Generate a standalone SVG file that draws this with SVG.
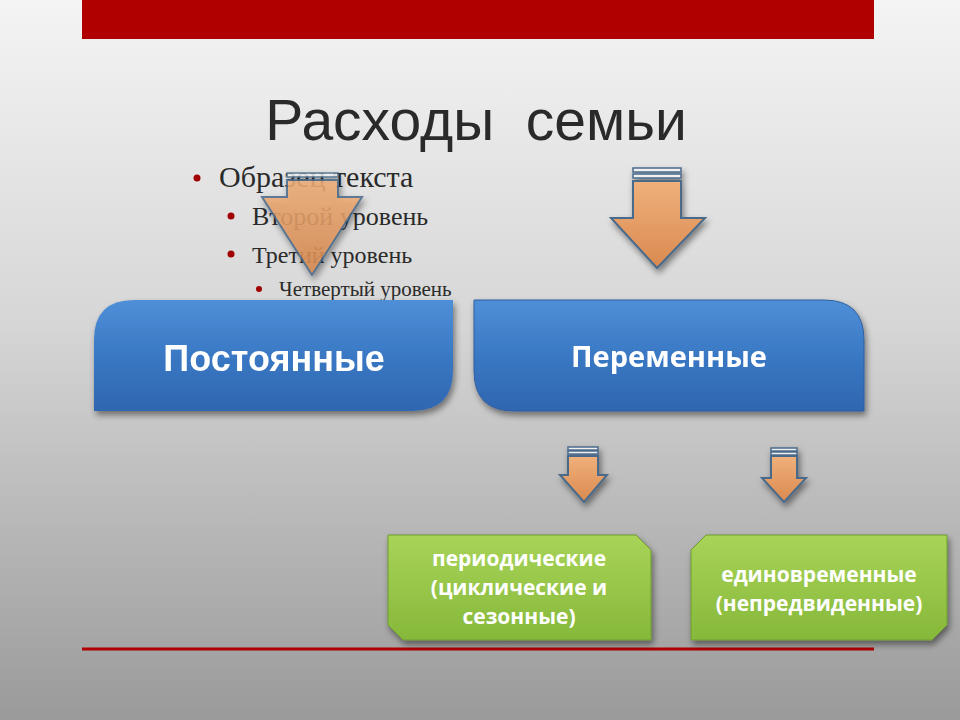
<svg xmlns="http://www.w3.org/2000/svg" width="960" height="720" viewBox="0 0 960 720">
<defs>
<linearGradient id="bg" x1="0" y1="0" x2="0" y2="1"><stop offset="0" stop-color="#f4f4f4"/><stop offset="0.45" stop-color="#d6d6d6"/><stop offset="1" stop-color="#9a9a9a"/></linearGradient>
<linearGradient id="blue" x1="0" y1="0" x2="0" y2="1"><stop offset="0" stop-color="#4f8fd8"/><stop offset="0.5" stop-color="#3a78c4"/><stop offset="1" stop-color="#2f66b0"/></linearGradient>
<linearGradient id="green" x1="0" y1="0" x2="0" y2="1"><stop offset="0" stop-color="#a8d458"/><stop offset="1" stop-color="#86b83a"/></linearGradient>
<linearGradient id="org" x1="0" y1="0" x2="0" y2="1"><stop offset="0" stop-color="#f0b07a"/><stop offset="1" stop-color="#d98a50"/></linearGradient>
<filter id="sh" x="-20%" y="-20%" width="140%" height="150%"><feDropShadow dx="2" dy="4" stdDeviation="3" flood-opacity="0.45"/></filter>
</defs>
<style>
.arr{fill:url(#org);stroke:#4a6a8a;stroke-width:2}
.str{fill:#f0f0f0;stroke:#4a6a8a;stroke-width:1.5}
.bt{font-family:"Liberation Sans",Arial,sans-serif;font-weight:bold;fill:#fff}
.gt{font-family:"Open Sans","DejaVu Sans",sans-serif;font-weight:bold;fill:#fff;font-size:21px;text-anchor:middle}
.bl{font-family:"Liberation Serif","Times New Roman",serif;fill:#2a2a2a}
</style>
<rect width="960" height="720" fill="url(#bg)"/>
<rect x="82" y="0" width="792" height="39" fill="#b00000"/>
<line x1="82" y1="649" x2="874" y2="649" stroke="#b00000" stroke-width="3"/>
<text x="476" y="140" xml:space="preserve" font-family="Liberation Sans,Arial,sans-serif" font-size="57" fill="#2a2a2a" text-anchor="middle">Расходы  семьи</text>
<g id="bullets" class="bl">
<circle cx="197" cy="178" r="3.5" fill="#a00000"/><text x="219" y="187" font-size="30">Образец текста</text>
<circle cx="231" cy="216" r="3.5" fill="#a00000"/><text x="252" y="225" font-size="26">Второй уровень</text>
<circle cx="231" cy="254" r="3.5" fill="#a00000"/><text x="252" y="263" font-size="24">Третий уровень</text>
<circle cx="259" cy="289" r="3" fill="#a00000"/><text x="279" y="296" font-size="21">Четвертый уровень</text>
</g>
<g id="connectors" filter="url(#sh)">
<g opacity="0.85"><rect class="str" x="287" y="173" width="51" height="4"/><path class="arr" d="M287 180 H338 V197 H362 L312 275 L262 197 H287 Z"/></g>
<g><rect class="str" x="633" y="168" width="48" height="4"/><rect class="str" x="633" y="174" width="48" height="4"/><path class="arr" d="M633 181 H681 V218 H705 L657 268 L611 218 H633 Z"/></g>
<g><rect class="str" x="568" y="447" width="30" height="3"/><rect class="str" x="568" y="451" width="30" height="3"/><path class="arr" d="M568 456 H598 V475 H607 L584 502 L560 475 H568 Z"/></g>
<g><rect class="str" x="771" y="448" width="26" height="3"/><rect class="str" x="771" y="452" width="26" height="3"/><path class="arr" d="M771 456 H797 V478 H806 L784 502 L762 478 H771 Z"/></g>
</g>
<g id="n1"><path d="M134 300 H453 V370 Q453 411 412 411 H94 V340 Q94 300 134 300 Z" fill="url(#blue)" filter="url(#sh)"/><text class="bt" x="274" y="371" font-size="36" text-anchor="middle">Постоянные</text></g>
<g id="n2"><path d="M474 300 H824 Q864 300 864 340 V411 H514 Q474 411 474 371 Z" fill="url(#blue)" stroke="#2f5f9f" filter="url(#sh)"/><text class="gt" x="669" y="367" style="font-size:29px">Переменные</text></g>
<g id="n3"><path d="M388 535 H636 L651 550 V640 H403 L388 625 Z" fill="url(#green)" stroke="#6f9a30" filter="url(#sh)"/><text class="gt" x="519" y="566">периодические</text><text class="gt" x="519" y="595">(циклические и</text><text class="gt" x="519" y="624">сезонные)</text></g>
<g id="n4"><path d="M706 535 H947 V625 L932 640 H691 V550 Z" fill="url(#green)" stroke="#6f9a30" filter="url(#sh)"/><text class="gt" x="819" y="582">единовременные</text><text class="gt" x="819" y="611">(непредвиденные)</text></g>
</svg>
